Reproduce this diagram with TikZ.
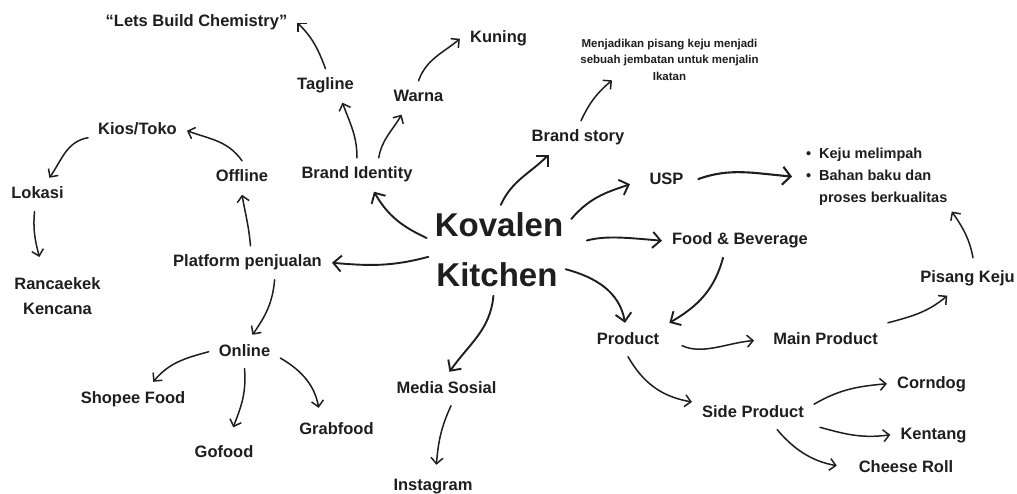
\documentclass[tikz,border=0pt]{standalone}
\usepackage{fontspec}
\setmainfont{Liberation Sans}
\usetikzlibrary{arrows.meta}
\definecolor{ink}{HTML}{1E1E1E}

\newcommand{\lblfont}{\bfseries\fontsize{16.5pt}{25pt}\selectfont}
\newcommand{\notefont}{\bfseries\fontsize{11.5pt}{16.5pt}\selectfont}
\newcommand{\listfont}{\bfseries\fontsize{14.5pt}{22pt}\selectfont}
\newcommand{\titlefont}{\bfseries\fontsize{33pt}{40pt}\selectfont}

\begin{document}
\begin{tikzpicture}[x=1pt, y=1pt, line join=round,
  lbl/.style={font=\lblfont, text=ink, text height=12pt, text depth=3.5pt, inner xsep=10pt, inner ysep=9pt, anchor=base},
  ttl/.style={font=\titlefont, text=ink, text height=24pt, text depth=0.5pt, inner sep=8pt, anchor=base},
  arr/.style={draw=ink, line width=1.5pt, line cap=round, -{Straight Barb[length=6pt,width=12pt]}},
  mainarr/.style={arr, line width=1.9pt, -{Straight Barb[length=8pt,width=16pt]}},
  bigarr/.style={arr, line width=2.1pt, -{Straight Barb[length=8pt,width=18pt]}}]
\useasboundingbox (0,0) rectangle (1017,-494);

% centre
\node[ttl] (kovalen) at (499,-237) {Kovalen};
\node[ttl] (kitchen) at (497,-287) {Kitchen};

% brand identity side
\node[lbl] (identity) at (357,-179)   {Brand Identity};
\node[lbl] (tagline)  at (325.5,-90)  {Tagline};
\node[lbl] (chem)     at (196.5,-27)  {“Lets Build Chemistry”};
\node[lbl] (warna)    at (418.5,-102) {Warna};
\node[lbl] (kuning)   at (498.5,-43)  {Kuning};

% sales platforms
\node[lbl] (platform) at (247.5,-267) {Platform penjualan};
\node[lbl] (offline)  at (242,-182)   {Offline};
\node[lbl] (kios)     at (137.5,-135) {Kios/Toko};
\node[lbl] (lokasi)   at (37.5,-199)  {Lokasi};
\node[font=\lblfont, text=ink, align=center, anchor=north, inner xsep=3pt, inner ysep=20pt] (alamat) at (57.5,-257) {Rancaekek\\Kencana};
\node[lbl] (online)   at (244.5,-356) {Online};
\node[lbl] (shopee)   at (133,-403)   {Shopee Food};
\node[lbl] (gofood)   at (224,-457)   {Gofood};
\node[lbl] (grabfood) at (336.5,-434) {Grabfood};
\node[lbl] (medsos)   at (446.5,-393) {Media Sosial};
\node[lbl] (insta)    at (433,-490)   {Instagram};

% story, usp, products
\node[lbl] (story) at (578,-142) {Brand story};
\node[font=\notefont, text=ink, align=center, anchor=north, inner sep=0pt] (storytext) at (669.5,-38.5)
  {Menjadikan pisang keju menjadi\\sebuah jembatan untuk menjalin\\Ikatan};
\node[lbl] (usp) at (666.5,-185) {USP};
\node[font=\listfont, text=ink, align=left, anchor=north west, inner xsep=14pt, inner ysep=6pt] (usplist) at (792,-141.6)
  {\makebox[13pt][l]{\textbullet}Keju melimpah\\\makebox[13pt][l]{\textbullet}Bahan baku dan\\\hspace*{13pt}proses berkualitas};
\node[lbl] (fnb)     at (740,-245)   {Food \& Beverage};
\node[lbl] (product) at (628,-344)   {Product};
\node[lbl] (main)    at (825.5,-344) {Main Product};
\node[lbl] (pisang)  at (967.5,-283) {Pisang Keju};
\node[lbl] (side)    at (753,-417)   {Side Product};
\node[lbl] (corndog) at (931.5,-388) {Corndog};
\node[lbl] (kentang) at (933.5,-439) {Kentang};
\node[lbl] (cheese)  at (906,-472)   {Cheese Roll};

% connectors, left half
\draw[mainarr] (kovalen.190) to[out=155,in=-60] (identity.-45);
\draw[arr] (identity.north) to[out=90,in=-70] (tagline.-45);
\draw[arr] (tagline.north) to[out=110,in=-45] (chem.east);
\draw[arr] (identity.38) to[out=80,in=-120] (warna.-135);
\draw[arr] (warna.north) to[out=70,in=-140] (kuning.west);
\draw[mainarr] (kitchen.165) to[out=195,in=-5] (platform.east);
\draw[arr] (platform.80) to[out=95,in=-80] (offline.south);
\draw[arr] (offline.north) to[out=125,in=-20] (kios.east);
\draw[arr] (kios.188) to[out=190,in=55] (lokasi.55);
\draw[arr] (lokasi.-100) to[out=-95,in=105] (alamat.115);
\draw[arr] (platform.-32) to[out=-95,in=55] (online.65);
\draw[arr] (online.west) to[out=195,in=50] (shopee.40);
\draw[arr, shorten >=9pt] (online.south) to[out=-85,in=70] (gofood.70);
\draw[arr, shorten >=5pt] (online.-10) to[out=-30,in=100] (grabfood.135);
\draw[mainarr] (kitchen.-100) to[out=-95,in=55] (medsos.80);
\draw[arr, shorten >=4pt] (medsos.-75) to[out=-115,in=85] (insta.80);

% connectors, right half
\draw[mainarr] (kovalen.85) to[out=65,in=-135] (story.-150);
\draw[arr] (story.80) to[out=65,in=-140] (storytext.200);
\draw[mainarr, shorten >=10pt] (kovalen.5) to[out=50,in=-160] (usp.west);
\draw[bigarr, shorten <=5pt] (usp.east) to[out=20,in=175] (usplist.west);
\draw[mainarr, shorten <=16pt] (kovalen.-15) to[out=15,in=175] (fnb.west);
\draw[mainarr] (kitchen.5) to[out=-15,in=100] (product.100);
\draw[mainarr] (fnb.-135) to[out=-105,in=30] (product.north east);
\draw[arr, shorten <=14pt, shorten >=9pt] (product.east) to[out=-25,in=-175] (main.west);
\draw[arr] (main.north east) to[out=15,in=-140] (pisang.-140);
\draw[arr, shorten <=4pt] (pisang.70) to[out=100,in=-55] (usplist.-25);
\draw[arr] (product.south) to[out=-60,in=170] (side.170);
\draw[arr] (side.8) to[out=30,in=-175] (corndog.west);
\draw[arr, shorten <=6pt] (side.-12) to[out=-15,in=-172] (kentang.west);
\draw[arr, shorten >=12pt] (side.-35) to[out=-50,in=170] (cheese.west);
\end{tikzpicture}
\end{document}
